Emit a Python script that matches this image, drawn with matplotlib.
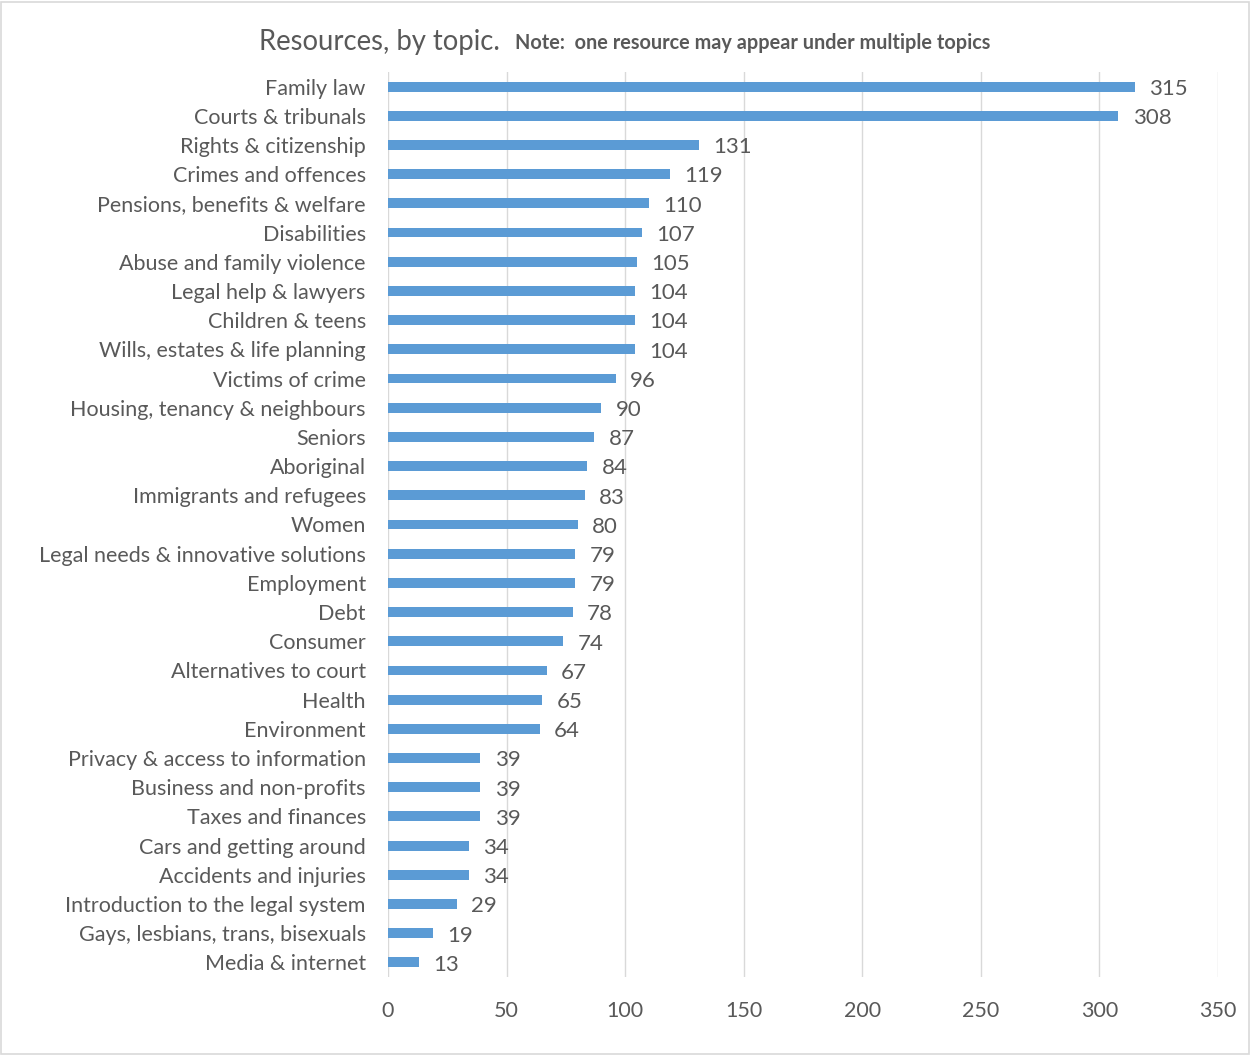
import numpy as np
import matplotlib.pyplot as plt
from matplotlib.patches import Rectangle

topics = ['Family law', 'Courts & tribunals', 'Rights & citizenship',
          'Crimes and offences', 'Pensions, benefits & welfare', 'Disabilities',
          'Abuse and family violence', 'Legal help & lawyers', 'Children & teens',
          'Wills, estates & life planning', 'Victims of crime',
          'Housing, tenancy & neighbours', 'Seniors', 'Aboriginal',
          'Immigrants and refugees', 'Women', 'Legal needs & innovative solutions',
          'Employment', 'Debt', 'Consumer', 'Alternatives to court', 'Health',
          'Environment', 'Privacy & access to information',
          'Business and non-profits', 'Taxes and finances',
          'Cars and getting around', 'Accidents and injuries',
          'Introduction to the legal system', 'Gays, lesbians, trans, bisexuals',
          'Media & internet']
counts = [315, 308, 131, 119, 110, 107, 105, 104, 104, 104, 96, 90, 87, 84, 83,
          80, 79, 79, 78, 74, 67, 65, 64, 39, 39, 39, 34, 34, 29, 19, 13]
xticks = [0, 50, 100, 150, 200, 250, 300, 350]

plt.rcParams['font.family'] = ['Lato', 'DejaVu Sans']
txt = '#595959'
bar_color = '#5B9BD5'

fig = plt.figure(figsize=(12.52, 10.55), dpi=100)
ax = fig.add_axes([0.3099, 0.0739, 0.6629, 0.8579])

y = np.arange(len(topics))
ax.barh(y, counts, height=0.34, color=bar_color, zorder=3)
for yi, c in zip(y, counts):
    ax.text(c + 6, yi + 0.08, str(c), va='center', ha='left', fontsize=16, color=txt)

ax.set_ylim(len(topics) - 0.5, -0.5)
ax.set_yticks(y)
ax.set_yticklabels(topics, fontsize=15.5, color=txt)
ax.set_xlim(0, 350)
ax.set_xticks(xticks)
ax.set_xticklabels([str(t) for t in xticks], fontsize=15.5, color=txt)
ax.tick_params(axis='both', length=0)
ax.tick_params(axis='y', pad=16)
ax.tick_params(axis='x', pad=17)
ax.grid(axis='x', color='#d9d9d9', linewidth=1, zorder=0)
for s in ax.spines.values():
    s.set_visible(False)

fig.text(0.207, 0.960, 'Resources, by topic.', fontsize=19.8, color=txt,
         ha='left', va='center')
fig.text(0.411, 0.959, 'Note:  one resource may appear under multiple topics',
         fontsize=14.3, fontweight='bold', color=txt, ha='left', va='center')

fig.patches.append(Rectangle((0.001, 0.001), 0.997, 0.997, transform=fig.transFigure,
                             fill=False, edgecolor='#d9d9d9', linewidth=1.2))

fig.savefig('out.png', dpi=100)
